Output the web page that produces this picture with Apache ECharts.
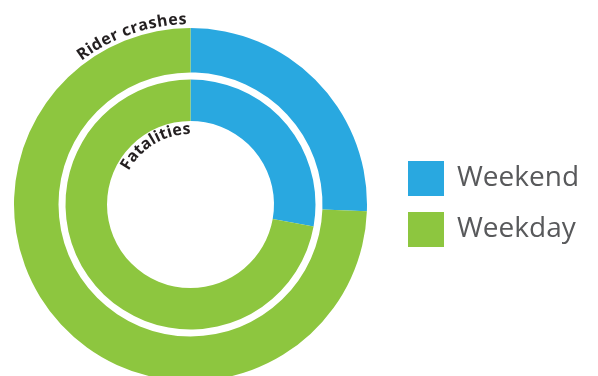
<!DOCTYPE html>
<html>
<head>
<meta charset="utf-8">
<script src="https://cdn.jsdelivr.net/npm/echarts@6/dist/echarts.min.js"></script>
<style>
  html, body { margin: 0; padding: 0; background: #fff; }
  #chart { width: 598px; height: 376px; }
</style>
</head>
<body>
<div id="chart"></div>
<script>
// Share of motorcycle rider crashes and fatalities by day type (%)
const categories = ['Weekend', 'Weekday'];
const crashShare = [25.6, 74.4];
const fatalityShare = [27.8, 72.2];
const ringTitles = ['Rider crashes', 'Fatalities'];

const colors = ['#29A8E0', '#8DC63F'];
const cx = 190.5, cy = 204.5;

const chart = echarts.init(document.getElementById('chart'));

// Lay a word along a circular arc, one rotated glyph per character.
// Angles are degrees clockwise from 12 o'clock, for the first and last glyph centres.
const measureCtx = document.createElement('canvas').getContext('2d');
function arcText(text, radius, a0, a1, font, fill) {
  measureCtx.font = font;
  const chars = Array.from(text);
  const widths = chars.map(c => measureCtx.measureText(c).width);
  const centres = [];
  let acc = 0;
  widths.forEach(w => { centres.push(acc + w / 2); acc += w; });
  const first = centres[0], last = centres[centres.length - 1];
  return chars.map((ch, i) => {
    const t = (centres[i] - first) / (last - first);
    const ang = (a0 + (a1 - a0) * t) * Math.PI / 180;
    return {
      type: 'text',
      x: cx + radius * Math.sin(ang),
      y: cy - radius * Math.cos(ang),
      rotation: -ang,
      silent: true,
      style: {
        text: ch,
        font: font,
        fill: fill,
        textAlign: 'center',
        textVerticalAlign: 'middle'
      }
    };
  });
}

const labelFont = 'bold 16px "Open Sans", sans-serif';
const graphics = []
  .concat(arcText(ringTitles[0], 185, -35.5, -2.5, labelFont, '#231F20'))
  .concat(arcText(ringTitles[1], 75, -58, -3, labelFont, '#231F20'));

function ring(name, values, radius) {
  return {
    type: 'pie',
    name: name,
    center: [cx, cy],
    radius: radius,
    startAngle: 90,
    clockwise: true,
    silent: true,
    label: { show: false },
    labelLine: { show: false },
    itemStyle: { borderWidth: 0 },
    emphasis: { disabled: true },
    data: categories.map((c, i) => ({ name: c, value: values[i] }))
  };
}

chart.setOption({
  animation: false,
  color: colors,
  legend: {
    orient: 'vertical',
    left: 408,
    top: 161,
    padding: 0,
    itemWidth: 36,
    itemHeight: 35,
    itemGap: 16,
    icon: 'rect',
    selectedMode: false,
    data: categories,
    textStyle: {
      fontFamily: '"Open Sans", sans-serif',
      fontSize: 28,
      color: '#58595B',
      padding: [0, 0, 0, 8]
    }
  },
  series: [
    ring(ringTitles[0], crashShare, [132, 176.5]),
    ring(ringTitles[1], fatalityShare, [83.5, 125])
  ],
  graphic: graphics
});
</script>
</body>
</html>
